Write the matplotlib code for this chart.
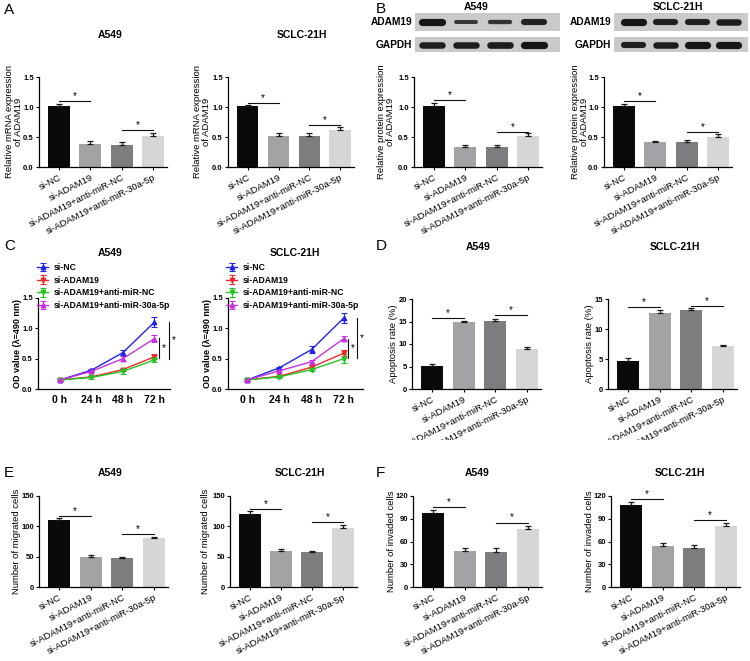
import numpy as np
import matplotlib
matplotlib.use('Agg')
import matplotlib.pyplot as plt
from matplotlib.transforms import Bbox, TransformedBbox

plt.rcParams['font.family'] = ['Liberation Sans', 'DejaVu Sans']

W, H = 750, 661

# ---- data ----
groups = ['si-NC', 'si-ADAM19', 'si-ADAM19+anti-miR-NC', 'si-ADAM19+anti-miR-30a-5p']
bar_colors = ['#0a0a0a', '#a3a3a6', '#7d7d7f', '#d6d6d6']

mrna_a549 = [1.01, 0.39, 0.37, 0.52]
mrna_a549_err = [0.04, 0.04, 0.04, 0.05]
mrna_sclc = [1.01, 0.51, 0.52, 0.62]
mrna_sclc_err = [0.02, 0.06, 0.05, 0.05]

prot_a549 = [1.01, 0.33, 0.33, 0.51]
prot_a549_err = [0.06, 0.04, 0.03, 0.05]
prot_sclc = [1.01, 0.42, 0.41, 0.50]
prot_sclc_err = [0.04, 0.02, 0.04, 0.05]

# western blot band strength (relative)
wb_a549_adam19 = [1.0, 0.55, 0.6, 0.85]
wb_a549_gapdh = [0.9, 0.9, 0.92, 1.0]
wb_sclc_adam19 = [1.0, 0.85, 0.85, 0.9]
wb_sclc_gapdh = [0.85, 0.9, 1.0, 1.0]

times = ['0 h', '24 h', '48 h', '72 h']
od_a549 = {
    'si-NC': [0.15, 0.31, 0.60, 1.10],
    'si-ADAM19': [0.15, 0.20, 0.32, 0.53],
    'si-ADAM19+anti-miR-NC': [0.15, 0.19, 0.29, 0.48],
    'si-ADAM19+anti-miR-30a-5p': [0.15, 0.29, 0.50, 0.83],
}
od_a549_err = {
    'si-NC': [0.01, 0.02, 0.04, 0.08],
    'si-ADAM19': [0.01, 0.01, 0.03, 0.04],
    'si-ADAM19+anti-miR-NC': [0.01, 0.02, 0.04, 0.04],
    'si-ADAM19+anti-miR-30a-5p': [0.01, 0.02, 0.04, 0.06],
}
od_sclc = {
    'si-NC': [0.15, 0.35, 0.65, 1.17],
    'si-ADAM19': [0.15, 0.21, 0.36, 0.59],
    'si-ADAM19+anti-miR-NC': [0.15, 0.20, 0.32, 0.50],
    'si-ADAM19+anti-miR-30a-5p': [0.15, 0.30, 0.45, 0.83],
}
od_sclc_err = {
    'si-NC': [0.01, 0.02, 0.06, 0.08],
    'si-ADAM19': [0.01, 0.01, 0.03, 0.05],
    'si-ADAM19+anti-miR-NC': [0.01, 0.02, 0.03, 0.07],
    'si-ADAM19+anti-miR-30a-5p': [0.01, 0.02, 0.03, 0.04],
}
line_colors = ['#2424e6', '#ec2a2a', '#22c522', '#c832dc']
line_markers = ['^', 'v', 'v', '^']

apop_a549 = [5.1, 14.8, 15.2, 8.9]
apop_a549_err = [0.4, 0.4, 0.4, 0.5]
apop_sclc = [4.7, 12.7, 13.2, 7.2]
apop_sclc_err = [0.5, 0.4, 0.3, 0.2]

mig_a549 = [110, 49, 47, 80]
mig_a549_err = [3, 3, 2, 2]
mig_sclc = [120, 59, 57, 98]
mig_sclc_err = [6, 3, 3, 5]

inv_a549 = [98, 47, 46, 77]
inv_a549_err = [4, 5, 5, 4]
inv_sclc = [108, 54, 52, 81]
inv_sclc_err = [4, 4, 4, 3]

fig = plt.figure(figsize=(7.5, 6.61), dpi=100)

XT_SIZE = 6.8
XT_ROT = 27
YL_SIZE = 6.8
TITLE_SIZE = 7.5


def box(x0, y0, x1, y1):
    return [x0 / W, 1 - y1 / H, (x1 - x0) / W, (y1 - y0) / H]


def ftext(x, y, s, **kw):
    return fig.text(x / W, 1 - y / H, s, **kw)


def style_axes(ax):
    for s in ['top', 'right']:
        ax.spines[s].set_visible(False)
    for s in ['left', 'bottom']:
        ax.spines[s].set_linewidth(0.9)
    ax.tick_params(length=2.5, width=0.8, labelsize=5.5, pad=1.2)
    for lbl in ax.get_yticklabels():
        lbl.set_fontweight('bold')


def bar_panel(rect, vals, errs, yticks, yfmt, sigs, ylabel, ylab_x, title, title_xy, clip=None):
    ax = fig.add_axes(box(*rect))
    x = np.arange(len(groups))
    ax.bar(x, vals, width=0.7, color=bar_colors, zorder=2)
    ax.errorbar(x, vals, yerr=[np.zeros(len(errs)), errs], fmt='none', ecolor='#1a1a1a',
                elinewidth=0.9, capsize=2.5, capthick=0.9, zorder=3)
    ax.set_xlim(-0.64, 3.45)
    ax.set_ylim(yticks[0], yticks[-1])
    ax.set_yticks(yticks)
    ax.set_yticklabels([yfmt.format(v) for v in yticks])
    ax.set_xticks(x)
    ax.set_xticklabels(groups, rotation=XT_ROT, ha='right', rotation_mode='anchor', fontsize=XT_SIZE)
    style_axes(ax)
    ax.tick_params(axis='x', labelsize=XT_SIZE, pad=2)
    for i, j, y in sigs:
        ax.plot([i, j], [y, y], color='#111111', lw=0.8, clip_on=False)
        ax.text((i + j) / 2, y, '*', ha='center', va='bottom', fontsize=7)
    ymid = (rect[1] + rect[3]) / 2
    ftext(ylab_x, ymid, ylabel, rotation=90, ha='center', va='center', fontsize=YL_SIZE,
          multialignment='center', linespacing=1.0)
    if title:
        ftext(title_xy[0], title_xy[1], title, ha='center', va='center', fontsize=TITLE_SIZE,
              fontweight='bold')
    if clip is not None:
        cb = TransformedBbox(Bbox.from_extents(clip[0] / W, 1 - clip[3] / H, clip[2] / W, 1 - clip[1] / H),
                             fig.transFigure)
        for lbl in ax.get_xticklabels():
            lbl.set_clip_box(cb)
            lbl.set_clip_on(True)
    return ax


def line_panel(rect, xlim, data, errs, sigs, title, title_xy, ylab_x, leg_xy):
    ax = fig.add_axes(box(*rect))
    x = np.arange(len(times))
    for (name, vals), col, mk in zip(data.items(), line_colors, line_markers):
        ax.errorbar(x, vals, yerr=errs[name], color=col, marker=mk, ms=3.2, lw=1,
                    elinewidth=0.8, capsize=2, capthick=0.8, label=name)
    ax.set_xlim(*xlim)
    ax.set_ylim(0, 1.5)
    ax.set_yticks([0, 0.5, 1.0, 1.5])
    ax.set_yticklabels(['0.0', '0.5', '1.0', '1.5'])
    ax.set_xticks(x)
    ax.set_xticklabels(times)
    style_axes(ax)
    ax.tick_params(axis='x', length=0, pad=4, labelsize=7.5)
    for lbl in ax.get_xticklabels():
        lbl.set_fontweight('bold')
    for xv, y0, y1, xs in sigs:
        ax.plot([xv, xv], [y0, y1], color='#111111', lw=0.8, clip_on=False)
        ax.text(xs, (y0 + y1) / 2, '*', ha='center', va='center', fontsize=7, clip_on=False)
    leg = ax.legend(loc='upper left', bbox_to_anchor=(leg_xy[0] / W, 1 - leg_xy[1] / H),
                    bbox_transform=fig.transFigure, frameon=False, fontsize=6.2,
                    handlelength=1.3, handletextpad=0.6, labelspacing=0.42, borderpad=0,
                    borderaxespad=0)
    for t in leg.get_texts():
        t.set_fontweight('bold')
    ymid = (rect[1] + rect[3]) / 2
    ftext(ylab_x, ymid, 'OD value (\u03bb=490 nm)', rotation=90, ha='center', va='center',
          fontsize=6.5, fontweight='bold')
    ftext(title_xy[0], title_xy[1], title, ha='center', va='center', fontsize=TITLE_SIZE, fontweight='bold')
    return ax


def blot_row(rect, xlim, strengths, label, label_x):
    ax = fig.add_axes(box(*rect))
    ax.set_facecolor('#cacaca')
    ax.set_xlim(*xlim)
    ax.set_ylim(-1, 1)
    for i, s in enumerate(strengths):
        ax.plot([i - 0.3, i + 0.3], [0, 0], color='#161616', lw=5.2 * s, solid_capstyle='round',
                alpha=0.6 + 0.4 * s)
    ax.set_xticks([])
    ax.set_yticks([])
    for s in ax.spines.values():
        s.set_visible(False)
    ftext(label_x, (rect[1] + rect[3]) / 2, label, ha='right', va='center', fontsize=7.3, fontweight='bold')


# ---- panel letters ----
for letter, (px, py) in zip('ABCDEF', [(4, 10), (376, 9), (4, 246), (376, 246), (4, 473), (376, 473)]):
    ftext(px, py, letter, ha='left', va='center', fontsize=11)

# ---- A: mRNA ----
bar_panel((39, 77, 167, 167), mrna_a549, mrna_a549_err, [0, 0.5, 1.0, 1.5], '{:.1f}',
          [(0, 1, 1.10), (2, 3, 0.61)], 'Relative mRNA expression\nof ADAM19', 14,
          'A549', (110, 35), clip=(0, 0, 375, 236))
bar_panel((228, 77, 354, 167), mrna_sclc, mrna_sclc_err, [0, 0.5, 1.0, 1.5], '{:.1f}',
          [(0, 1, 1.07), (2, 3, 0.70)], 'Relative mRNA expression\nof ADAM19', 202,
          'SCLC-21H', (302, 35), clip=(0, 0, 375, 236))

# ---- B: blots + protein ----
blot_row((415, 13, 560, 31), (-0.5, 3.76), wb_a549_adam19, 'ADAM19', 412)
blot_row((415, 37, 560, 52), (-0.5, 3.76), wb_a549_gapdh, 'GAPDH', 412)
blot_row((614, 13, 748, 31), (-0.62, 3.6), wb_sclc_adam19, 'ADAM19', 611)
blot_row((614, 37, 748, 52), (-0.62, 3.6), wb_sclc_gapdh, 'GAPDH', 611)
ftext(476, 7, 'A549', ha='center', va='center', fontsize=TITLE_SIZE, fontweight='bold')
ftext(678, 7, 'SCLC-21H', ha='center', va='center', fontsize=TITLE_SIZE, fontweight='bold')

bar_panel((414, 77, 542, 167), prot_a549, prot_a549_err, [0, 0.5, 1.0, 1.5], '{:.1f}',
          [(0, 1, 1.11), (2, 3, 0.59)], 'Relative protein expression\nof ADAM19', 386,
          '', None, clip=(375, 0, 750, 236))
bar_panel((604, 77, 732, 167), prot_sclc, prot_sclc_err, [0, 0.5, 1.0, 1.5], '{:.1f}',
          [(0, 1, 1.10), (2, 3, 0.59)], 'Relative protein expression\nof ADAM19', 580,
          '', None, clip=(375, 0, 750, 236))

# ---- C: OD ----
line_panel((38, 298, 170, 389), (-0.7, 3.5), od_a549, od_a549_err,
           [(3.14, 0.51, 0.84, 3.29), (3.46, 0.50, 1.10, 3.61)], 'A549', (110, 253), 18, (37, 263))
line_panel((228, 298, 363, 389), (-0.6, 3.6), od_sclc, od_sclc_err,
           [(3.12, 0.51, 0.83, 3.28), (3.40, 0.51, 1.17, 3.56)], 'SCLC-21H', (295, 253), 207, (226, 263))

# ---- D: apoptosis ----
bar_panel((412, 299, 541, 389), apop_a549, apop_a549_err, [0, 5, 10, 15, 20], '{:d}',
          [(0, 1, 15.8), (2, 3, 16.4)], 'Apoptosis rate (%)', 393,
          'A549', (478, 247), clip=(375, 0, 750, 440))
bar_panel((608, 299, 737, 389), apop_sclc, apop_sclc_err, [0, 5, 10, 15], '{:d}',
          [(0, 1, 13.6), (2, 3, 13.9)], 'Apoptosis rate (%)', 590,
          'SCLC-21H', (675, 247), clip=(375, 0, 750, 440))

# ---- E: migration ----
bar_panel((39, 496, 168, 587), mig_a549, mig_a549_err, [0, 50, 100, 150], '{:d}',
          [(0, 1, 117), (2, 3, 87)], 'Number of migrated cells', 17,
          'A549', (110, 473))
bar_panel((230, 496, 357, 587), mig_sclc, mig_sclc_err, [0, 50, 100, 150], '{:d}',
          [(0, 1, 129), (2, 3, 107)], 'Number of migrated cells', 205,
          'SCLC-21H', (300, 473))

# ---- F: invasion ----
bar_panel((413, 496, 542, 587), inv_a549, inv_a549_err, [0, 30, 60, 90, 120], '{:d}',
          [(0, 1, 105), (2, 3, 85)], 'Number of invaded cells', 391,
          'A549', (477, 473))
bar_panel((611, 496, 740, 587), inv_sclc, inv_sclc_err, [0, 30, 60, 90, 120], '{:d}',
          [(0, 1, 116), (2, 3, 88)], 'Number of invaded cells', 589,
          'SCLC-21H', (680, 473))

fig.savefig('out.png', dpi=100)
